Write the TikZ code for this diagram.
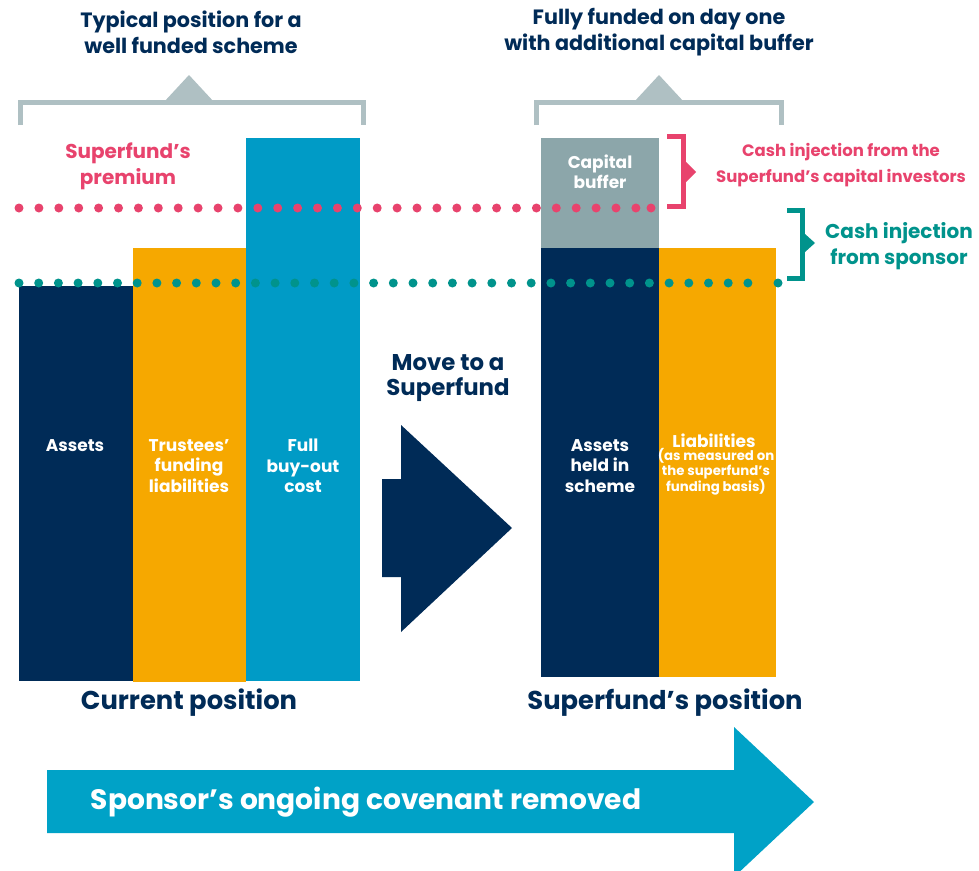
\documentclass[tikz,border=0pt]{standalone}
\usepackage{fontspec}
\setmainfont{Poppins}
\usetikzlibrary{positioning}
\definecolor{navy}{HTML}{002B57}
\definecolor{amber}{HTML}{F6A800}
\definecolor{ocean}{HTML}{009BC6}
\definecolor{slate}{HTML}{8CA6AA}
\definecolor{mist}{HTML}{AFC0C3}
\definecolor{rose}{HTML}{E8436D}
\definecolor{sea}{HTML}{00938C}
\definecolor{sky}{HTML}{00A2C7}
\tikzset{
  head/.style={font=\bfseries\fontsize{20.7}{26}\selectfont, text=navy, align=center},
  barlbl/.style={font=\bfseries\fontsize{17}{20.5}\selectfont, text=white, align=center},
  smalllbl/.style={font=\bfseries\fontsize{13.3}{14.5}\selectfont, text=white, align=center},
  poslbl/.style={font=\bfseries\fontsize{25.8}{28}\selectfont, text=navy},
  brk/.style={draw=mist, line width=5pt},
  sidebrk/.style={line width=5pt}
}
\begin{document}
\begin{tikzpicture}[x=1pt, y=-1pt]
    \clip (0,0) rectangle (979,870);
    \fill[white] (0,0) rectangle (979,870);

    % === Left group: current position ===
    \node[head] (typical) at (191,32) {Typical position for a\\well funded scheme};
    \draw[brk] (20,125) -- (20,102.5) -- (363,102.5) -- (363,125);
    \fill[mist] (164,102) -- (189,75) -- (214,102) -- cycle;
    \node[head, font=\bfseries\fontsize{20}{26}\selectfont, text=rose] (premium) at (128,166) {Superfund’s\\premium};

    % Bars
    \fill[navy] (19,286) rectangle (133,681);
    \fill[amber] (133,248) rectangle (246,682);
    \fill[ocean] (246,138) rectangle (360,681);
    \node[barlbl] (assets) at (75,446) {Assets};
    \node[barlbl] (trustees) at (189,466) {Trustees’\\funding\\liabilities};
    \node[barlbl] (buyout) at (303,466) {Full\\buy-out\\cost};
    \node[poslbl] (current) at (189,703) {Current position};

    % === Middle arrow ===
    \node[head, font=\bfseries\fontsize{22.8}{25.5}\selectfont] (move) at (448,378) {Move to a\\Superfund};
    \fill[navy] (382,479) -- (401,479) -- (401,425) -- (512,528) -- (401,632)
        -- (401,577) -- (382,577) -- cycle;

    % === Right group: superfund position ===
    \node[head] (fully) at (659,32) {Fully funded on day one\\with additional capital buffer};
    \draw[brk] (536,125) -- (536,102.5) -- (781,102.5) -- (781,125);
    \fill[mist] (634,102) -- (659,75) -- (684,102) -- cycle;

    % Bars
    \fill[slate] (541,138) rectangle (659,248);
    \fill[navy] (541,248) rectangle (659,677);
    \fill[amber] (659,248) rectangle (776,677);
    \node[barlbl] (buffer) at (600,172) {Capital\\buffer};
    \node[barlbl] (held) at (600,466) {Assets\\held in\\scheme};
    \node[barlbl] (liab) at (714,441) {Liabilities};
    \node[smalllbl] (basis) at (716,472) {(as measured on\\the superfund’s\\funding basis)};
    \node[poslbl] (superpos) at (665,703) {Superfund’s position};

    % Dotted levels
    \foreach \k in {0,...,31} {
        \fill[rose] (19+19.9*\k,208) circle (4.5);
    }
    \fill[rose] (651,208) circle (4.5);
    \foreach \k in {0,...,37} {
        \fill[sea] (19+19.7*\k,283) circle (4.5);
    }
    \fill[sea] (778,283) circle (4.5);

    % Side brackets
    \draw[sidebrk, draw=rose] (667,136.5) -- (683.5,136.5) -- (683.5,206.5) -- (667,206.5);
    \fill[rose] (686,162) -- (696,172) -- (686,182) -- cycle;
    \node[font=\bfseries\fontsize{16.5}{26}\selectfont, text=rose, align=center] (investors)
        at (841,165) {Cash injection from the\\Superfund’s capital investors};
    \draw[sidebrk, draw=sea] (787,210.5) -- (802.5,210.5) -- (802.5,278.5) -- (787,278.5);
    \fill[sea] (805,234) -- (815,243) -- (805,252) -- cycle;
    \node[head, font=\bfseries\fontsize{20}{26}\selectfont, text=sea] (sponsor) at (899,246) {Cash injection\\from sponsor};

    % === Bottom arrow ===
    \fill[sky] (47,770) -- (734,770) -- (734,727) -- (814,802) -- (734,877)
        -- (734,833) -- (47,833) -- cycle;
    \node[font=\bfseries\fontsize{28.1}{30}\selectfont, text=white] (covenant) at (366,802)
        {Sponsor’s ongoing covenant removed};
\end{tikzpicture}
\end{document}
